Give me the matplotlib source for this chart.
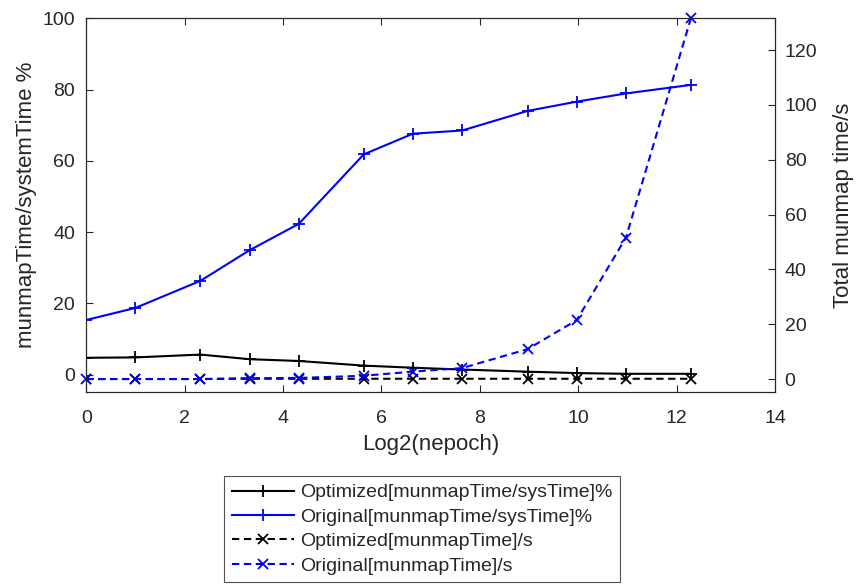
import matplotlib
matplotlib.use("Agg")
import matplotlib.pyplot as plt

plt.rcParams['font.family'] = ['Liberation Sans', 'DejaVu Sans']

# log2(nepoch) on the x axis
log2_nepoch = [0, 1, 2.32, 3.32, 4.32, 5.64, 6.64, 7.64, 8.97, 9.97, 10.97, 12.29]

# percent of system time spent in munmap (left axis)
opt_pct = [4.7, 4.8, 5.6, 4.3, 3.8, 2.5, 1.9, 1.4, 0.8, 0.4, 0.2, 0.2]
orig_pct = [15.3, 18.7, 26.3, 34.9, 42.3, 61.8, 67.6, 68.5, 74.0, 76.6, 78.9, 81.3]

# total munmap time in seconds (right axis)
opt_sec = [0.0, 0.0, 0.0, 0.1, 0.1, 0.1, 0.1, 0.1, 0.1, 0.1, 0.1, 0.1]
orig_sec = [0.0, 0.0, 0.0, 0.3, 0.4, 1.2, 2.7, 4.0, 10.9, 21.5, 51.6, 131.6]

labels = ['Optimized[munmapTime/sysTime]%', 'Original[munmapTime/sysTime]%',
          'Optimized[munmapTime]/s', 'Original[munmapTime]/s']

gray = '#262626'
fs = 14      # tick labels, legend
lfs = 16     # axis labels

fig = plt.figure(figsize=(8.56, 5.86), dpi=100)
ax = fig.add_axes([0.1008, 0.3305, 0.9054 - 0.1008, 0.9688 - 0.3305])
ax2 = ax.twinx()

l1, = ax.plot(log2_nepoch, opt_pct, '-', color='k', lw=1.5, marker='+', ms=9, mew=1.3)
l2, = ax.plot(log2_nepoch, orig_pct, '-', color='b', lw=1.5, marker='+', ms=9, mew=1.3)
l3, = ax2.plot(log2_nepoch, opt_sec, '--', color='k', lw=1.5, marker='x', ms=7, mew=1.3,
               dashes=(3.5, 2.2))
l4, = ax2.plot(log2_nepoch, orig_sec, '--', color='b', lw=1.5, marker='x', ms=7, mew=1.3,
               dashes=(3.5, 2.2), clip_on=False)

ax.set_xlim(0, 14)
ax.set_ylim(-5, 100)
ax2.set_ylim(-4.85, 131.6)
ax.set_xticks(range(0, 15, 2))
ax.set_yticks(range(0, 101, 20))
ax2.set_yticks(range(0, 121, 20))

for a in (ax, ax2):
    for s in a.spines.values():
        s.set_color(gray)
        s.set_linewidth(0.8)
ax.tick_params(axis='x', direction='in', top=True, length=5, width=0.8,
               color=gray, labelcolor=gray, labelsize=fs, pad=13)
ax.tick_params(axis='y', direction='in', length=5, width=0.8,
               color=gray, labelcolor=gray, labelsize=fs, pad=8)
ax2.tick_params(axis='y', direction='in', length=5, width=0.8,
                color=gray, labelcolor=gray, labelsize=fs, pad=7)

ax.set_xlabel('Log2(nepoch)', fontsize=lfs, color=gray, labelpad=5)
ax.set_ylabel('munmapTime/systemTime %', fontsize=lfs, color=gray, labelpad=4)
ax2.set_ylabel('Total munmap time/s', fontsize=lfs, color=gray, labelpad=11)

leg = fig.legend([l1, l2, l3, l4], labels, loc='upper center',
                 bbox_to_anchor=(422 / 856, 1 - 476 / 586), fontsize=fs,
                 frameon=True, fancybox=False, handlelength=3.2, handletextpad=0.3,
                 labelspacing=0.35, borderpad=0.4, borderaxespad=0)
leg.get_frame().set_edgecolor(gray)
leg.get_frame().set_linewidth(0.8)
for t in leg.get_texts():
    t.set_color(gray)

fig.savefig('out.png', dpi=100)
